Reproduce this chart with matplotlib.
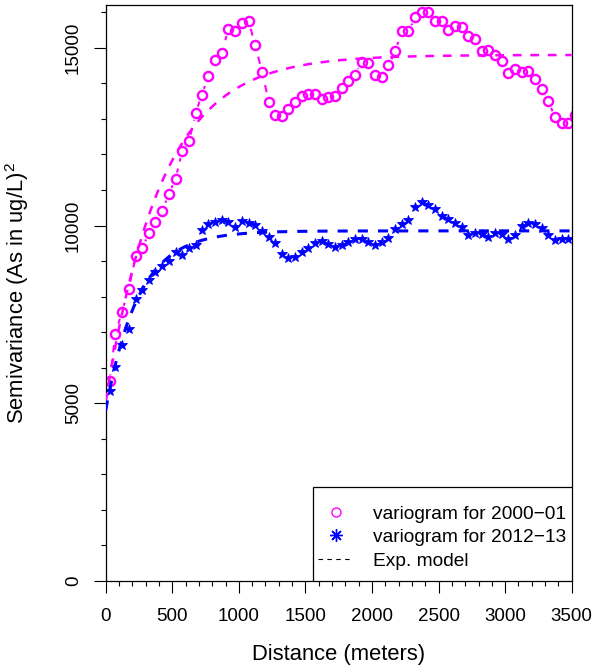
import numpy as np
import matplotlib
matplotlib.use("Agg")
import matplotlib.pyplot as plt
from matplotlib.lines import Line2D
from matplotlib.patches import Rectangle
from matplotlib.ticker import MultipleLocator

plt.rcParams["font.family"] = ["Liberation Sans", "DejaVu Sans"]
plt.rcParams["mathtext.fontset"] = "custom"
plt.rcParams["mathtext.rm"] = "Liberation Sans"
plt.rcParams["mathtext.it"] = "Liberation Sans:italic"

MAGENTA = "#FF00FF"
BLUE = "#0000FF"

# lag distances (m) of the empirical variograms
lags = [30, 72, 122, 173, 226, 274, 324, 374, 424, 474,
        525, 575, 625, 675, 722, 772, 822, 872, 922, 972,
        1023, 1074, 1123, 1175, 1225, 1275, 1322, 1372, 1422, 1472,
        1522, 1572, 1622, 1672, 1722, 1773, 1823, 1873, 1923, 1973,
        2024, 2074, 2124, 2174, 2224, 2274, 2324, 2374, 2424, 2474,
        2524, 2574, 2624, 2674, 2724, 2774, 2824, 2874, 2924, 2974,
        3024, 3074, 3124, 3174, 3224, 3274, 3324, 3374, 3424, 3475,
        3525]

# semivariance, 2000-01
gamma_2000 = [5619, 6942, 7570, 8229, 9139, 9360, 9785, 10100, 10420, 10884,
              11315, 12103, 12368, 13156, 13680, 14206, 14657, 14845, 15538, 15481,
              15707, 15746, 15070, 14319, 13483, 13108, 13080, 13277, 13483, 13635,
              13699, 13699, 13567, 13623, 13651, 13877, 14065, 14243, 14600, 14580,
              14243, 14187, 14507, 14901, 15464, 15464, 15859, 16008, 16008, 15746,
              15746, 15501, 15614, 15577, 15332, 15239, 14918, 14938, 14789, 14620,
              14282, 14395, 14319, 14356, 14130, 13849, 13494, 13060, 12874, 12874,
              13100]

# semivariance, 2012-13
gamma_2012 = [5346, 6022, 6633, 7103, 7920, 8181, 8463, 8697, 8857, 9006,
              9260, 9167, 9355, 9448, 9870, 10040, 10104, 10152, 10104, 9963,
              10132, 10076, 10011, 9851, 9665, 9513, 9195, 9074, 9102, 9260,
              9372, 9513, 9561, 9476, 9400, 9448, 9541, 9608, 9608, 9541,
              9448, 9532, 9636, 9890, 10040, 10152, 10527, 10659, 10574, 10453,
              10265, 10172, 10076, 9963, 9730, 9795, 9749, 9665, 9795, 9758,
              9608, 9730, 9983, 10076, 10040, 9918, 9730, 9589, 9608, 9608,
              9600]

# fitted exponential models: nugget, partial sill, range
model_2000 = (5050, 9750, 420)
model_2012 = (4800, 5050, 245)

legend_labels = ["variogram for 2000\u221201", "variogram for 2012\u221213", "Exp. model"]


def exp_model(h, nugget, psill, rng):
    return nugget + psill * (1 - np.exp(-h / rng))


fig = plt.figure(figsize=(5.96, 6.70), dpi=100)
ax = fig.add_axes([105.7 / 596, 1 - 581 / 670, 466 / 596, 576 / 670])

h = np.linspace(0, 3500, 500)

# data of 2000-01, joined by a dashed line (gaps around the points, like type="b")
ax.plot(lags, gamma_2000, color=MAGENTA, lw=1.5, dashes=(3.5, 3.5), zorder=1)
ax.plot(lags, gamma_2000, ls="none", marker="o", ms=10, mfc="white",
        mec="none", zorder=1.5)
ax.plot(lags, gamma_2000, ls="none", marker="o", ms=6.6, mfc="none",
        mec=MAGENTA, mew=1.7, zorder=2)
ax.plot(lags, gamma_2012, ls="none", marker="*", ms=7, color=BLUE,
        mew=0.6, zorder=2)

ax.plot(h, exp_model(h, *model_2000), color=MAGENTA, lw=1.8,
        dashes=(3.5, 3.5), zorder=3)
ax.plot(h, exp_model(h, *model_2012), color=BLUE, lw=2.2,
        dashes=(3.3, 3.3), zorder=3)

ax.set_xlim(0, 3500)
ax.set_ylim(0, 16205)
ax.set_xticks([0, 500, 1000, 1500, 2000, 2500, 3000, 3500])
ax.set_yticks([0, 5000, 10000, 15000])
ax.xaxis.set_minor_locator(MultipleLocator(100))
ax.yaxis.set_minor_locator(MultipleLocator(1000))

ax.tick_params(which="major", length=8.6, width=0.8, direction="out", labelsize=13.5)
ax.tick_params(which="minor", length=3.8, width=0.8, direction="out")
ax.tick_params(axis="x", which="major", pad=10.5)
ax.tick_params(axis="y", which="major", pad=8.5)
for lab in ax.get_yticklabels():
    lab.set_rotation(90)
    lab.set_va("center")

for sp in ax.spines.values():
    sp.set_linewidth(0.9)

ax.set_xlabel("Distance (meters)", fontsize=15.8)
ax.set_ylabel("Semivariance (As in ug/L)$^2$", fontsize=15.8)
ax.xaxis.set_label_coords(0.5, -0.109)
ax.yaxis.set_label_coords(-0.160, 0.5)

# legend box
box = Rectangle((0.4448, 0.0), 0.5552, 0.1632, transform=ax.transAxes,
                facecolor="white", edgecolor="black", lw=0.9, zorder=4)
ax.add_patch(box)

handles = [
    Line2D([], [], ls="none", marker="o", mfc="none", mec=MAGENTA, ms=6.5, mew=1),
    Line2D([], [], ls="none", marker=(8, 2, 0), color=BLUE, ms=9, mew=1),
    Line2D([], [], color="black", lw=0.8, dashes=(4, 4)),
]
leg = ax.legend(handles, legend_labels, loc="lower left",
                bbox_to_anchor=(0.4448, 0.0109), borderaxespad=0,
                fontsize=13.8, handlelength=1.82, handletextpad=1.02,
                labelspacing=0.31, borderpad=0.27, frameon=False)
leg.set_zorder(5)

fig.savefig("out.png", dpi=100)
